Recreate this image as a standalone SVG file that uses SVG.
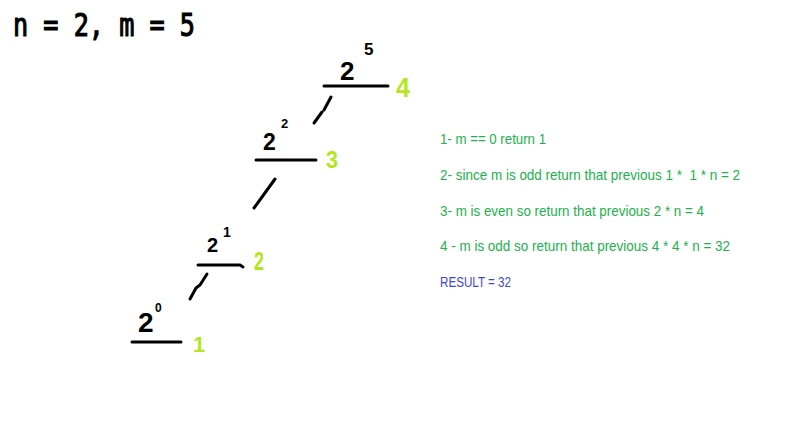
<svg xmlns="http://www.w3.org/2000/svg" width="800" height="444" viewBox="0 0 800 444">
<style>
.hand{font-family:"Liberation Sans",Arial,sans-serif;font-weight:bold;fill:#000}
.lime{font-family:"Liberation Sans",Arial,sans-serif;font-weight:bold;fill:#b5e61d}
.bar{stroke:#000;stroke-width:3;stroke-linecap:round;fill:none}
.note{font-family:"Liberation Sans",Arial,sans-serif;font-size:14.5px;fill:#22b14c}
.res{fill:#3f48cc}
</style>
<rect width="800" height="444" fill="#fff"/>
<text x="13" y="36" font-family="'DejaVu Sans Mono',monospace" font-size="32" textLength="182" lengthAdjust="spacingAndGlyphs" fill="#000" stroke="#000" stroke-width="1.2">n = 2, m = 5</text>
<g id="node-2pow5">
<text class="hand" x="340" y="80" font-size="26">2</text>
<text class="hand" x="364" y="55" font-size="17">5</text>
<line class="bar" x1="324" y1="86" x2="388" y2="86"/>
<text class="lime" x="396" y="97" font-size="27" textLength="14" lengthAdjust="spacingAndGlyphs">4</text>
</g>
<g id="node-2pow2">
<text class="hand" x="263" y="150" font-size="23">2</text>
<text class="hand" x="281" y="128" font-size="13">2</text>
<line class="bar" x1="256" y1="160" x2="316" y2="160"/>
<text class="lime" x="326" y="168" font-size="24" textLength="12" lengthAdjust="spacingAndGlyphs">3</text>
</g>
<g id="node-2pow1">
<text class="hand" x="207" y="252" font-size="20">2</text>
<text class="hand" x="223" y="237" font-size="14">1</text>
<path class="bar" d="M198 265 L240 265 L243 267"/>
<text class="lime" x="254" y="270" font-size="26" textLength="10" lengthAdjust="spacingAndGlyphs">2</text>
</g>
<g id="node-2pow0">
<text class="hand" x="138" y="332" font-size="28">2</text>
<text class="hand" x="155" y="312" font-size="12">0</text>
<line class="bar" x1="132" y1="342" x2="181" y2="342"/>
<text class="lime" x="193" y="352" font-size="22">1</text>
</g>
<g id="connectors">
<path class="bar" d="M331 97 L324 110 M322 112 L314 123"/>
<path class="bar" d="M275 179 L262 197 L254 208"/>
<path class="bar" d="M207 274 L200 285 L196 288 L190 299"/>
</g>
<g id="notes">
<text class="note" x="440" y="144" textLength="106" lengthAdjust="spacingAndGlyphs">1- m == 0 return 1</text>
<text class="note" x="440" y="180" textLength="300" lengthAdjust="spacingAndGlyphs" xml:space="preserve">2- since m is odd return that previous 1 *  1 * n = 2</text>
<text class="note" x="440" y="216" textLength="264" lengthAdjust="spacingAndGlyphs">3- m is even so return that previous 2 * n = 4</text>
<text class="note" x="440" y="251" textLength="290" lengthAdjust="spacingAndGlyphs">4 - m is odd so return that previous 4 * 4 * n = 32</text>
<text class="note res" x="440" y="287" textLength="71" lengthAdjust="spacingAndGlyphs">RESULT = 32</text>
</g>
</svg>
